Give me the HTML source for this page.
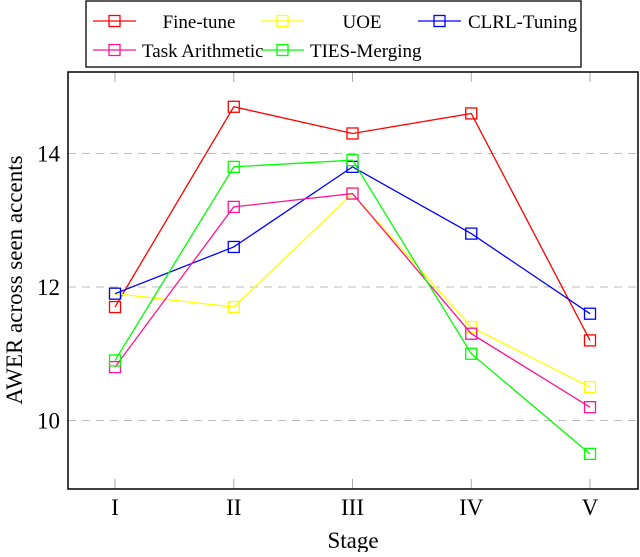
<!DOCTYPE html>
<html><head><meta charset="utf-8"><style>
body{margin:0;background:#fff}
text{font-family:"Liberation Serif","Times New Roman",serif !important;fill:#000}
</style></head><body>
<svg id="c" width="640" height="552" viewBox="0 0 640 552" font-family="Liberation Serif, serif"></svg>
<script>
const categories=["I","II","III","IV","V"];
const seriesNames=["Fine-tune","UOE","CLRL-Tuning","Task Arithmetic","TIES-Merging"];
const seriesColors=["#ff0000","#ffff00","#0000ff","#ff1493","#00ff00"];
const fineTune=[11.7,14.7,14.3,14.6,11.2];
const uoe=[11.9,11.7,13.4,11.4,10.5];
const clrl=[11.9,12.6,13.8,12.8,11.6];
const taskArith=[10.8,13.2,13.4,11.3,10.2];
const ties=[10.9,13.8,13.9,11.0,9.5];
const yTicks=[10,12,14];
const series=[fineTune,uoe,clrl,taskArith,ties];
const NS="http://www.w3.org/2000/svg";
const svg=document.getElementById('c');
const L=68,R=638,T=72,B=489;
const x=i=>115+i*118.75;
const y=v=>287-(v-12)*66.75;
const FF="Liberation Serif, serif";
function mk(tag,at,parent){const e=document.createElementNS(NS,tag);for(const k in at)e.setAttribute(k,at[k]);if(tag==='text')e.setAttribute('font-family',FF);(parent||svg).appendChild(e);return e;}
yTicks.forEach(t=>{
 const g=mk('line',{x1:L,x2:R,y1:y(t),y2:y(t),stroke:'#bbb','stroke-dasharray':'8,6'});
 
 
 const tx=mk('text',{x:L-8,y:y(t)+8,'text-anchor':'end','font-size':23});tx.textContent=t;
 
 
});
categories.forEach((c,i)=>{
 mk('line',{x1:x(i),x2:x(i),y1:B,y2:B-10,stroke:'#aaa'});
 mk('line',{x1:x(i),x2:x(i),y1:T,y2:T+10,stroke:'#aaa'});
 const tx=mk('text',{x:x(i),y:B+26,'text-anchor':'middle','font-size':23});tx.textContent=c;
 
 
});
const ax=mk('rect',{x:L,y:T,width:R-L,height:B-T,fill:'none',stroke:'#000','stroke-width':1.5});


series.forEach((s,k)=>{
 const col=seriesColors[k];
 const p=mk('polyline',{points:s.map((v,i)=>x(i)+','+y(v)).join(' '),fill:'none',stroke:col,'stroke-width':1.3});
 
 
 s.forEach((v,i)=>{
  const m=mk('rect',{x:x(i)-5.5,y:y(v)-5.5,width:11,height:11,fill:'none',stroke:col,'stroke-width':1.3});
  
  
 });
});
const xt=mk('text',{x:353,y:548,'text-anchor':'middle','font-size':23});xt.textContent='Stage';


const yt=mk('text',{x:0,y:0,'text-anchor':'middle','font-size':23,transform:'translate(22,280) rotate(-90)'});yt.textContent='AWER across seen accents';


const lg=mk('g',{});


mk('rect',{x:86,y:1,width:495,height:66,fill:'#fff',stroke:'#000','stroke-width':1.3},lg);
const pos=[[93,21,'middle',199],[261,21,'middle',362],[418,21,'start',468],[93,50,'start',142],[261,50,'start',310]];
seriesNames.forEach((n,k)=>{
 const [lx,ly,anc,tx0]=pos[k];const col=seriesColors[k];
 const e=mk('g',{},lg);
 
 
 mk('line',{x1:lx,x2:lx+43,y1:ly,y2:ly,stroke:col,'stroke-width':1.3},e);
 mk('rect',{x:lx+16,y:ly-5.5,width:11,height:11,fill:'none',stroke:col,'stroke-width':1.3},e);
 const t=mk('text',{x:tx0,y:ly+7,'text-anchor':anc,'font-size':19},e);t.textContent=n;
});
</script>
</body></html>
